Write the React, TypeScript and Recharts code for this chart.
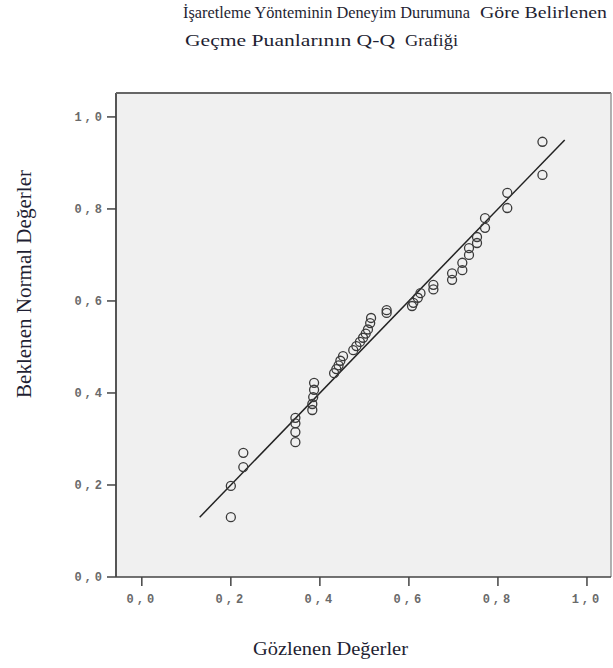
import React from 'react';
import { ScatterChart, Scatter, XAxis, YAxis, ReferenceArea, ReferenceLine } from 'recharts';

const observed = [
  0.2, 0.2, 0.228, 0.228, 0.345, 0.345, 0.345, 0.345,
  0.383, 0.383, 0.385, 0.387, 0.387,
  0.432, 0.437, 0.442, 0.446, 0.452,
  0.475, 0.482, 0.49, 0.497, 0.503, 0.508, 0.513, 0.515,
  0.55, 0.55, 0.607, 0.61, 0.62, 0.626, 0.655, 0.655,
  0.697, 0.697, 0.72, 0.72, 0.735, 0.735, 0.753, 0.753,
  0.771, 0.771, 0.821, 0.821, 0.9, 0.9,
];
const expected = [
  0.13, 0.198, 0.239, 0.27, 0.293, 0.315, 0.334, 0.346,
  0.363, 0.376, 0.391, 0.407, 0.422,
  0.443, 0.452, 0.46, 0.47, 0.48,
  0.493, 0.502, 0.511, 0.52, 0.529, 0.538, 0.552, 0.563,
  0.574, 0.58, 0.589, 0.596, 0.607, 0.617, 0.625, 0.635,
  0.646, 0.66, 0.667, 0.683, 0.7, 0.715, 0.726, 0.739,
  0.759, 0.78, 0.802, 0.835, 0.874, 0.946,
];
const xTicks = [0, 0.2, 0.4, 0.6, 0.8, 1.0];
const yTicks = [0, 0.2, 0.4, 0.6, 0.8, 1.0];
const refLine = [0.13, 0.95];

const titleLine1a = 'İşaretleme Yönteminin Deneyim Durumuna';
const titleLine1b = 'Göre Belirlenen';
const titleLine2a = 'Geçme Puanlarının Q-Q';
const titleLine2b = 'Grafiği';
const xLabel = 'Gözlenen Değerler';
const yLabel = 'Beklenen Normal Değerler';

const points = observed.map((x, i) => ({ x, y: expected[i] }));

const fmt = (v: number) => v.toFixed(1).replace('.', ',');

const Dot = (props: any) => (
  <circle cx={props.cx} cy={props.cy} r={4.5} fill="none" stroke="#3a3a3a" strokeWidth={1.3} />
);

const tickFont = { fill: '#6a6a6a', fontSize: 12, fontFamily: '"Liberation Mono", monospace', letterSpacing: 3, fontWeight: 600 };

const serif = '"Liberation Serif", "Times New Roman", serif';
const txtColor = '#1f1f33';

export default function App() {
  return (
    <div style={{ position: 'absolute', left: 0, top: 0, width: 613, height: 668, background: '#fff' }}>
      <ScatterChart width={613} height={668} margin={{ top: 93, right: 2, bottom: 61, left: 0 }}>
        <XAxis
          type="number"
          dataKey="x"
          domain={[-0.058, 1.054]}
          ticks={xTicks}
          tickFormatter={fmt}
          allowDataOverflow
          axisLine={false}
          tickSize={9}
          tickMargin={8}
          tickLine={{ stroke: '#444', strokeWidth: 1.5 }}
          tick={tickFont}
          height={30}
        />
        <YAxis
          type="number"
          dataKey="y"
          domain={[0, 1.052]}
          ticks={yTicks}
          tickFormatter={fmt}
          allowDataOverflow
          axisLine={false}
          tickSize={9}
          tickMargin={2}
          tickLine={{ stroke: '#444', strokeWidth: 1.5 }}
          tick={tickFont}
          width={116}
        />
        <ReferenceArea x1={-0.058} x2={1.054} y1={0} y2={1.052} fill="#f0f0f0" fillOpacity={1} stroke="none" ifOverflow="visible" />
        <ReferenceLine segment={[{ x: -0.058, y: 0 }, { x: -0.058, y: 1.052 }]} stroke="#555" strokeWidth={2} ifOverflow="visible" />
        <ReferenceLine segment={[{ x: -0.058, y: 1.052 }, { x: 1.054, y: 1.052 }]} stroke="#666" strokeWidth={2} ifOverflow="visible" />
        <ReferenceLine segment={[{ x: 1.054, y: 0 }, { x: 1.054, y: 1.052 }]} stroke="#999" strokeWidth={1.5} ifOverflow="visible" />
        <ReferenceLine segment={[{ x: -0.058, y: 0 }, { x: 1.054, y: 0 }]} stroke="#444" strokeWidth={1.5} ifOverflow="visible" />
        <ReferenceLine
          segment={[{ x: refLine[0], y: refLine[0] }, { x: refLine[1], y: refLine[1] }]}
          stroke="#222"
          strokeWidth={1.5}
          ifOverflow="visible"
        />
        <Scatter data={points} shape={<Dot />} isAnimationActive={false} />
      </ScatterChart>
      <svg
        width={613}
        height={668}
        style={{ position: 'absolute', left: 0, top: 0, pointerEvents: 'none' }}
        fontFamily={serif}
        fill={txtColor}
      >
        <text x={183} y={18} fontSize={17} textLength={287} lengthAdjust="spacingAndGlyphs">{titleLine1a}</text>
        <text x={480} y={18} fontSize={17} textLength={127} lengthAdjust="spacingAndGlyphs">{titleLine1b}</text>
        <text x={185} y={46} fontSize={17.5} textLength={210} lengthAdjust="spacingAndGlyphs">{titleLine2a}</text>
        <text x={405} y={46} fontSize={17.5} textLength={53} lengthAdjust="spacingAndGlyphs">{titleLine2b}</text>
        <text x={253} y={655} fontSize={19.5} textLength={155} lengthAdjust="spacingAndGlyphs">{xLabel}</text>
        <text x={0} y={0} fontSize={20} transform="translate(31,398) rotate(-90)" textLength={228} lengthAdjust="spacingAndGlyphs">{yLabel}</text>
      </svg>
    </div>
  );
}
